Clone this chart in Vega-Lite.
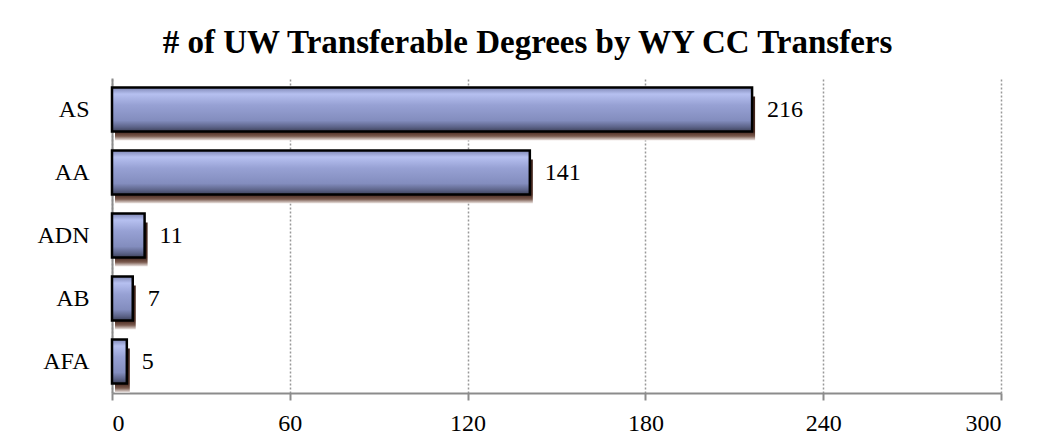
{
  "$schema": "https://vega.github.io/schema/vega-lite/v6.json",
  "width": 889,
  "height": 315,
  "autosize": {"type": "none"},
  "padding": {"left": 112, "top": 78, "right": 52, "bottom": 49},
  "background": "white",
  "config": {"view": {"stroke": null}, "font": "Liberation Serif"},
  "title": {
    "text": "# of UW Transferable Degrees by WY CC Transfers",
    "font": "Liberation Serif",
    "fontSize": 33,
    "fontWeight": "bold",
    "color": "black",
    "anchor": "middle",
    "dx": -29,
    "offset": 18
  },
  "data": {
    "values": [
      {"degree": "AS", "count": 216},
      {"degree": "AA", "count": 141},
      {"degree": "ADN", "count": 11},
      {"degree": "AB", "count": 7},
      {"degree": "AFA", "count": 5}
    ]
  },
  "encoding": {
    "y": {
      "field": "degree",
      "type": "nominal",
      "sort": null,
      "scale": {"paddingInner": 0.3, "paddingOuter": 0.15},
      "axis": {
        "title": null,
        "ticks": false,
        "labelFont": "Liberation Serif",
        "labelFontSize": 24,
        "labelColor": "black",
        "labelPadding": 23,
        "domainColor": "#8c8c8c",
        "domainWidth": 2
      }
    },
    "x": {
      "field": "count",
      "type": "quantitative",
      "scale": {"domain": [0, 300], "nice": false},
      "axis": {
        "title": null,
        "values": [0, 60, 120, 180, 240, 300],
        "grid": true,
        "gridDash": [2, 2],
        "gridColor": "#999999",
        "gridWidth": 1.5,
        "domainColor": "#8c8c8c",
        "domainWidth": 2,
        "tickColor": "#8c8c8c",
        "tickWidth": 2,
        "tickSize": 7,
        "labelFont": "Liberation Serif",
        "labelFontSize": 24,
        "labelColor": "black",
        "labelPadding": 11
      }
    }
  },
  "layer": [
    {
      "mark": {
        "type": "bar",
        "xOffset": 3,
        "x2Offset": 3,
        "yOffset": 9,
        "y2Offset": 9,
        "color": {
          "gradient": "linear",
          "x1": 0, "y1": 0, "x2": 0, "y2": 1,
          "stops": [
            {"offset": 0, "color": "#3a2018"},
            {"offset": 0.8, "color": "#4a2a20"},
            {"offset": 0.9, "color": "#7a5a4e"},
            {"offset": 1, "color": "#f2ecea"}
          ]
        }
      }
    },
    {
      "mark": {
        "type": "bar",
        "stroke": "black",
        "strokeWidth": 2.5,
        "color": {
          "gradient": "linear",
          "x1": 0, "y1": 0, "x2": 0, "y2": 1,
          "stops": [
            {"offset": 0, "color": "#7e86b4"},
            {"offset": 0.15, "color": "#b6c0f0"},
            {"offset": 0.4, "color": "#97a1d4"},
            {"offset": 0.75, "color": "#838dbe"},
            {"offset": 0.9, "color": "#5c6388"},
            {"offset": 1, "color": "#3c4058"}
          ]
        }
      }
    },
    {
      "mark": {
        "type": "text",
        "align": "left",
        "baseline": "middle",
        "dx": 15,
        "font": "Liberation Serif",
        "fontSize": 24,
        "color": "black"
      },
      "encoding": {"text": {"field": "count", "type": "quantitative"}}
    }
  ]
}
